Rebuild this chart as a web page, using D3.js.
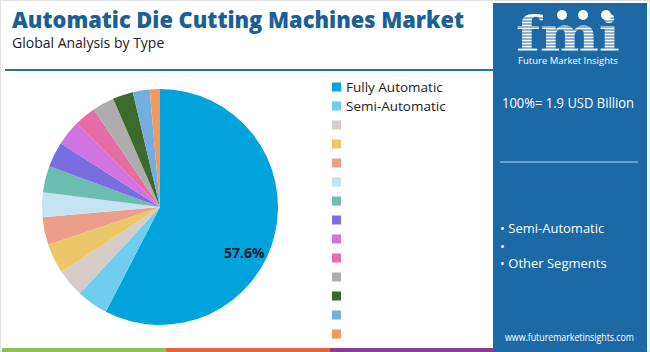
<!DOCTYPE html>
<html>
<head>
<meta charset="utf-8">
<script src="https://cdn.jsdelivr.net/npm/d3@7"></script>
<style>
  html, body { margin: 0; padding: 0; background: #fff; }
  svg { display: block; font-family: 'Open Sans', 'Noto Sans', sans-serif; }
</style>
</head>
<body>
<div id="chart"></div>
<script>
// Data
const categories = [
  'Fully Automatic', 'Semi-Automatic', '', '', '', '', '', '', '', '', '', '', '', ''
];
const shares = [57.6, 4.3, 3.8, 4.1, 3.8, 3.4, 3.6, 3.5, 3.4, 3.0, 3.0, 2.8, 2.3, 1.4];
const colors = [
  '#00a3dc', '#6fcdf0', '#d6cdc9', '#ecc76a', '#eb9f8a', '#c6e3f4', '#6bbcb1',
  '#7a6de0', '#cf74e0', '#e56fa5', '#adadad', '#3c6a2a', '#74aee0', '#f29a5c'
];
const totalLabel = '100%= 1.9 USD Billion';
const panelBullets = ['Semi-Automatic', '', 'Other Segments'];
const footerColors = ['#8fbf52', '#e4653a', '#8e3b97'];

const width = 650, height = 352;
const svg = d3.select('#chart').append('svg')
  .attr('width', width).attr('height', height);

// Frame
svg.append('rect')
  .attr('x', 0.5).attr('y', 0.5).attr('width', width - 1).attr('height', height - 1)
  .attr('fill', '#fff').attr('stroke', '#e2e2e2');

// Title block
svg.append('text')
  .attr('x', 12).attr('y', 28)
  .attr('fill', '#1b5f96')
  .attr('font-size', 23).attr('font-weight', 800)
  .attr('textLength', 452).attr('lengthAdjust', 'spacingAndGlyphs')
  .text('Automatic Die Cutting Machines Market');

svg.append('text')
  .attr('x', 12).attr('y', 48)
  .attr('fill', '#222')
  .attr('font-size', 14)
  .text('Global Analysis by Type');

svg.append('line')
  .attr('x1', 5).attr('x2', 493).attr('y1', 70).attr('y2', 70)
  .attr('stroke', '#2f6fa6').attr('stroke-width', 2);

// Pie
const cx = 160, cy = 207, r = 118;
const pie = d3.pie().sort(null).value((d) => d)(shares);
const arc = d3.arc().innerRadius(0).outerRadius(r);
const g = svg.append('g').attr('transform', `translate(${cx},${cy})`);

g.selectAll('path')
  .data(pie)
  .enter()
  .append('path')
  .attr('d', arc)
  .attr('fill', (d, i) => colors[i]);

const labelArc = d3.arc().innerRadius(r * 0.7).outerRadius(r * 0.7);
g.selectAll('.lbl')
  .data(pie.filter((d) => d.data > 10))
  .enter()
  .append('text')
  .attr('transform', (d) => {
    const c = labelArc.centroid(d);
    return `translate(${c[0] + 4},${c[1] + 27})`;
  })
  .attr('text-anchor', 'middle')
  .attr('dy', '0.35em')
  .attr('font-size', 14).attr('font-weight', 700)
  .attr('fill', '#14202c')
  .text((d) => d.data.toFixed(1) + '%');

// Legend
const legend = svg.append('g').attr('transform', 'translate(332,87)');
const rows = legend.selectAll('g')
  .data(categories)
  .enter()
  .append('g')
  .attr('transform', (d, i) => `translate(0,${i * 19})`);
rows.append('rect')
  .attr('x', 0).attr('y', -4.5).attr('width', 9).attr('height', 9)
  .attr('fill', (d, i) => colors[i]);
rows.append('text')
  .attr('x', 14).attr('y', 0).attr('dy', '0.35em')
  .attr('font-size', 13.5).attr('fill', '#222')
  .text((d) => d);

// Right panel
const px = 493, pw = 154;
svg.append('rect')
  .attr('x', px).attr('y', 3).attr('width', pw).attr('height', height - 3)
  .attr('fill', '#1d69a6');

// Logo
const logo = svg.append('g');
logo.append('text')
  .attr('x', 568).attr('y', 51)
  .attr('text-anchor', 'middle')
  .attr('font-family', 'DejaVu Serif, serif')
  .attr('font-size', 48).attr('font-weight', 700)
  .attr('fill', '#fff')
  .attr('textLength', 104).attr('lengthAdjust', 'spacingAndGlyphs')
  .text('fmi');
logo.selectAll('line')
  .data(d3.range(18, 52, 3))
  .enter()
  .append('line')
  .attr('x1', 510).attr('x2', 625)
  .attr('y1', (d) => d).attr('y2', (d) => d)
  .attr('stroke', '#1d69a6').attr('stroke-width', 1);
logo.selectAll('circle')
  .data([562, 583, 606])
  .enter()
  .append('circle')
  .attr('cx', (d) => d).attr('cy', 15).attr('r', 5)
  .attr('fill', '#fff');
svg.append('text')
  .attr('x', 568).attr('y', 64)
  .attr('text-anchor', 'middle')
  .attr('font-size', 9.5).attr('fill', '#fff')
  .text('Future Market Insights');

svg.append('text')
  .attr('x', 502).attr('y', 108)
  .attr('font-size', 14).attr('fill', '#fff')
  .attr('textLength', 132).attr('lengthAdjust', 'spacingAndGlyphs')
  .text(totalLabel);

svg.append('line')
  .attr('x1', 500).attr('x2', 638).attr('y1', 162).attr('y2', 162)
  .attr('stroke', '#b9d3ea').attr('stroke-width', 1);

svg.selectAll('.bullet')
  .data(panelBullets)
  .enter()
  .append('text')
  .attr('class', 'bullet')
  .attr('x', 500).attr('y', (d, i) => 233 + i * 17.5)
  .attr('font-size', 13).attr('fill', '#fff')
  .text((d) => '\u2022 ' + d);

svg.append('text')
  .attr('x', 505).attr('y', 341)
  .attr('font-size', 10).attr('fill', '#fff')
  .attr('textLength', 129).attr('lengthAdjust', 'spacingAndGlyphs')
  .text('www.futuremarketinsights.com');

// Footer stripes
const fx = d3.scaleLinear().domain([0, 3]).range([2, px]);
svg.selectAll('.foot')
  .data(footerColors)
  .enter()
  .append('rect')
  .attr('x', (d, i) => fx(i)).attr('y', 348)
  .attr('width', (d, i) => fx(i + 1) - fx(i)).attr('height', 4)
  .attr('fill', (d) => d);
</script>
</body>
</html>
